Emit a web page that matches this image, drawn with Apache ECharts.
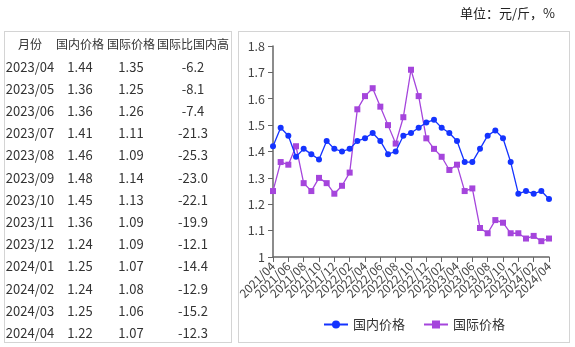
<!DOCTYPE html>
<html>
<head>
<meta charset="utf-8">
<script src="https://cdn.jsdelivr.net/npm/echarts@6/dist/echarts.min.js"></script>
<style>
  html, body { margin: 0; padding: 0; background: #fff; }
  #wrap { position: relative; width: 575px; height: 347px; overflow: hidden;
          font-family: "Noto Sans CJK SC", "Noto Sans", sans-serif; color: #333; }
  #chart { position: absolute; left: 0; top: 0; width: 575px; height: 347px; }
  .box { position: absolute; border: 1px solid #d4d4d4; box-sizing: border-box; }
  #unit { position: absolute; left: 460px; top: 3px; font-size: 13px; color: #222; white-space: nowrap; }
  .cell { position: absolute; white-space: nowrap; transform: translate(-50%, -50%); }
  .hdr { font-size: 12px; }
  .num { font-size: 13px; font-family: "Noto Sans CJK SC", "Noto Sans", sans-serif; }
</style>
</head>
<body>
<div id="wrap">
  <div class="box" style="left:4px;top:31px;width:228px;height:312px;"></div>
  <div class="box" style="left:238px;top:31px;width:332px;height:312px;"></div>
  <div id="chart"></div>
  <div id="unit">单位：元/斤，%</div>
  <div id="table"></div>
</div>
<script>
// Monthly prices, 2021/04 – 2024/04 (元/斤)
const months = [
  '2021/04','2021/05','2021/06','2021/07','2021/08','2021/09','2021/10','2021/11','2021/12',
  '2022/01','2022/02','2022/03','2022/04','2022/05','2022/06','2022/07','2022/08','2022/09',
  '2022/10','2022/11','2022/12','2023/01','2023/02','2023/03','2023/04','2023/05','2023/06',
  '2023/07','2023/08','2023/09','2023/10','2023/11','2023/12','2024/01','2024/02','2024/03','2024/04'
];
const domestic = [
  1.42,1.49,1.46,1.38,1.41,1.39,1.37,1.44,1.41,
  1.40,1.41,1.44,1.45,1.47,1.44,1.39,1.40,1.46,
  1.47,1.49,1.51,1.52,1.49,1.47,1.44,1.36,1.36,
  1.41,1.46,1.48,1.45,1.36,1.24,1.25,1.24,1.25,1.22
];
const international = [
  1.25,1.36,1.35,1.42,1.28,1.25,1.30,1.28,1.24,
  1.27,1.32,1.56,1.61,1.64,1.57,1.50,1.43,1.53,
  1.71,1.61,1.45,1.41,1.38,1.33,1.35,1.25,1.26,
  1.11,1.09,1.14,1.13,1.09,1.09,1.07,1.08,1.06,1.07
];
// Table: last 13 months with the gap of the international price over the domestic one (%)
const tableHeaders = ['月份', '国内价格', '国际价格', '国际比国内高'];
const tableMonths = months.slice(-13);
const tableDomestic = ['1.44','1.36','1.36','1.41','1.46','1.48','1.45','1.36','1.24','1.25','1.24','1.25','1.22'];
const tableIntl = ['1.35','1.25','1.26','1.11','1.09','1.14','1.13','1.09','1.09','1.07','1.08','1.06','1.07'];
const tableGap = ['-6.2','-8.1','-7.4','-21.3','-25.3','-23.0','-22.1','-19.9','-12.1','-14.4','-12.9','-15.2','-12.3'];
const yTicks = { min: 1, max: 1.8, interval: 0.1 };

// build the table
(function () {
  const t = document.getElementById('table');
  const colX = [30, 80, 131, 193];
  const headY = 43, rowY0 = 65.5, rowH = 22.2;
  let html = '';
  tableHeaders.forEach((h, i) => {
    html += `<div class="cell hdr" style="left:${colX[i]}px;top:${headY}px">${h}</div>`;
  });
  tableMonths.forEach((m, r) => {
    const y = rowY0 + r * rowH;
    const vals = [m, tableDomestic[r], tableIntl[r], tableGap[r]];
    vals.forEach((v, i) => {
      html += `<div class="cell num" style="left:${colX[i]}px;top:${y}px">${v}</div>`;
    });
  });
  t.innerHTML = html;
})();

const BLUE = '#1433ff';
const PURPLE = '#a545dc';
// Month labels every two months, split across two stacked category axes so the
// tightly packed rotated labels are all kept.
const labelStyle = { rotate: 45, fontSize: 12, color: '#444', margin: 7,
                     fontFamily: 'Noto Sans CJK SC' };
const chart = echarts.init(document.getElementById('chart'), null, { renderer: 'canvas' });
chart.setOption({
  animation: false,
  grid: { left: 273, top: 46, width: 276, height: 211, containLabel: false },
  legend: {
    top: 313, left: 318, itemGap: 18, itemWidth: 24, itemHeight: 10,
    textStyle: { fontSize: 13, color: '#333', fontFamily: 'Noto Sans CJK SC' },
    data: ['国内价格', '国际价格']
  },
  xAxis: [
    {
      type: 'category', data: months, boundaryGap: false, position: 'bottom',
      axisLine: { lineStyle: { color: '#666', width: 1.5 } },
      axisTick: { interval: (i) => i % 2 === 0, length: 5, lineStyle: { color: '#666' } },
      axisLabel: Object.assign({ interval: (i) => i % 4 === 0 }, labelStyle),
      splitLine: { show: false }
    },
    {
      type: 'category', data: months, boundaryGap: false, position: 'bottom', offset: 0,
      axisLine: { show: false }, axisTick: { show: false },
      axisLabel: Object.assign({ interval: (i) => i % 4 === 2 }, labelStyle),
      splitLine: { show: false }
    }
  ],
  yAxis: {
    type: 'value', min: yTicks.min, max: yTicks.max, interval: yTicks.interval,
    axisLine: { show: true, lineStyle: { color: '#666', width: 1.5 } },
    axisTick: { show: true, length: 5, lineStyle: { color: '#666' } },
    axisLabel: { fontSize: 12.5, color: '#444', margin: 8, fontFamily: 'Noto Sans CJK SC',
                 formatter: v => String(+v.toFixed(1)) },
    splitLine: { show: false }
  },
  series: [
    { name: '国内价格', type: 'line', data: domestic, symbol: 'circle', symbolSize: 6,
      showAllSymbol: true, xAxisIndex: 0,
      itemStyle: { color: BLUE }, lineStyle: { color: BLUE, width: 1.3 }, z: 3 },
    { name: '国际价格', type: 'line', data: international, symbol: 'rect', symbolSize: 6,
      showAllSymbol: true, xAxisIndex: 0,
      itemStyle: { color: PURPLE }, lineStyle: { color: PURPLE, width: 1.3 }, z: 2 }
  ]
});
</script>
</body>
</html>
